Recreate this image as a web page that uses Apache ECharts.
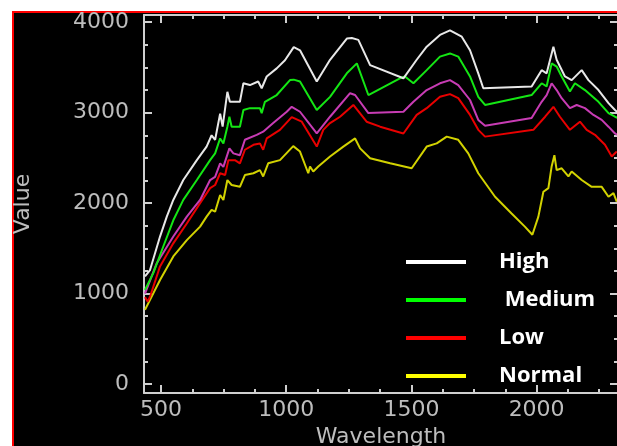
<!DOCTYPE html>
<html>
<head>
<meta charset="utf-8">
<script src="https://cdn.jsdelivr.net/npm/echarts@6/dist/echarts.min.js"></script>
<style>
html,body{margin:0;padding:0;background:#fff;width:617px;height:446px;overflow:hidden}
#bg{position:absolute;left:12px;top:11px;width:605px;height:435px;background:#000;border-left:2px solid #f00;border-top:2px solid #f00;box-sizing:border-box}
#c{position:absolute;left:0;top:0;width:617px;height:446px}
</style>
</head>
<body>
<div id="bg"></div>
<div id="c"></div>
<script>
// ---- data ----
const seriesNames = ['High', 'Medium', 'Low', 'Normal'];

const highWl = [436,456,496,523,549,589,643,682,702,716,736,746,765,775,815,829,855,888,902,922,962,995,1030,1055,1122,1175,1242,1262,1288,1335,1468,1521,1561,1614,1654,1701,1734,1767,1787,1980,2020,2040,2067,2080,2113,2140,2180,2207,2247,2287,2313,2325];
const highVal = [1190,1260,1630,1850,2035,2255,2475,2625,2750,2700,2990,2845,3230,3120,3120,3325,3305,3345,3270,3400,3490,3580,3725,3690,3345,3585,3820,3825,3805,3525,3380,3585,3730,3860,3910,3840,3690,3435,3270,3290,3470,3435,3730,3585,3400,3360,3470,3360,3250,3105,3030,3000];

const mediumWl = [436,469,509,549,589,643,696,716,736,749,765,773,782,815,829,855,895,902,915,962,1015,1030,1055,1122,1175,1242,1282,1328,1454,1474,1508,1561,1614,1654,1687,1734,1767,1794,1980,2020,2040,2060,2080,2100,2133,2153,2193,2247,2287,2313,2325];
const mediumVal = [1040,1225,1520,1810,2035,2255,2475,2550,2715,2660,2845,2955,2845,2845,3030,3050,3050,2995,3120,3195,3360,3365,3345,3030,3175,3435,3545,3195,3380,3400,3325,3470,3620,3655,3620,3400,3175,3085,3195,3325,3290,3545,3510,3400,3235,3325,3250,3120,2995,2955,2940];

const magentaWl = [436,483,549,603,656,696,716,736,749,773,789,815,835,882,908,948,1002,1022,1055,1122,1175,1255,1275,1328,1468,1508,1561,1614,1654,1687,1734,1767,1794,1980,2020,2040,2060,2080,2100,2133,2160,2193,2227,2260,2287,2313,2325];
const magentaVal = [1000,1335,1630,1850,2035,2255,2290,2440,2400,2605,2550,2530,2700,2755,2790,2885,3010,3065,3010,2770,2955,3215,3195,2995,3010,3120,3250,3325,3360,3305,3140,2920,2855,2940,3120,3195,3325,3250,3160,3050,3085,3050,2975,2920,2845,2770,2750];

const lowWl = [436,447,456,496,549,603,656,696,716,736,756,769,795,815,835,869,895,908,922,975,1022,1062,1122,1148,1175,1215,1268,1321,1375,1468,1521,1561,1614,1654,1687,1734,1767,1794,1987,2034,2067,2093,2133,2173,2200,2233,2273,2300,2320];
const lowVal = [960,910,965,1300,1555,1775,2000,2165,2200,2330,2310,2475,2475,2440,2590,2645,2660,2590,2715,2810,2950,2900,2625,2810,2885,2955,3085,2900,2845,2770,2975,3050,3175,3205,3160,2975,2810,2735,2810,2955,3065,2955,2810,2900,2810,2755,2645,2515,2570];

const normalWl = [436,456,496,549,603,656,682,702,716,736,749,765,782,815,835,869,895,908,928,975,1028,1055,1088,1095,1108,1128,1175,1228,1275,1295,1335,1415,1501,1561,1601,1641,1687,1727,1767,1834,1900,1953,1983,2007,2027,2047,2060,2071,2080,2100,2127,2140,2180,2220,2260,2287,2307,2320];
const normalVal = [820,930,1150,1410,1590,1740,1850,1925,1905,2090,2035,2255,2200,2180,2310,2330,2365,2295,2440,2475,2630,2570,2330,2405,2350,2405,2515,2625,2715,2605,2495,2440,2385,2625,2660,2735,2700,2550,2330,2070,1885,1740,1650,1850,2125,2165,2405,2530,2365,2385,2295,2350,2255,2180,2180,2070,2110,2015];

// ---- build ----
const pairs = (xs, ys) => xs.map((x, i) => [x, ys[i]]);
const X_MIN = 432, X_MAX = 2325, Y_MIN = -100, Y_MAX = 4080;
const axisCol = '#cfcfcf';
const labelFont = {color: '#bdbdbd', fontFamily: 'DejaVu Sans', fontSize: 22};

function axisCommon(withLabels, margin) {
  return {
    splitNumber: 4,
    axisLine: {show: true, onZero: false, lineStyle: {color: axisCol, width: 2}},
    axisTick: {show: true, inside: true, length: 8, lineStyle: {color: axisCol, width: 2}},
    minorTick: {show: true, splitNumber: 4, length: 4, lineStyle: {color: axisCol, width: 2}},
    axisLabel: Object.assign({show: true, margin: margin, showMinLabel: false, showMaxLabel: false,
      formatter: v => (withLabels ? String(v) : '')}, labelFont),
    splitLine: {show: false}
  };
}
function xAx(pos, withLabels, name) {
  return Object.assign({
    type: 'value', position: pos, min: X_MIN, max: X_MAX,
    name: name, nameLocation: 'middle', nameGap: 26,
    nameTextStyle: Object.assign({}, labelFont)
  }, axisCommon(withLabels, 6));
}
function yAx(pos, withLabels, name) {
  return Object.assign({
    type: 'value', position: pos, min: Y_MIN, max: Y_MAX,
    name: name, nameLocation: 'middle', nameGap: 110, nameRotate: 90,
    nameTextStyle: Object.assign({}, labelFont)
  }, axisCommon(withLabels, 15));
}

function line(name, data, color) {
  return {
    name: name, type: 'line', data: data, xAxisIndex: 0, yAxisIndex: 0,
    symbol: 'none', clip: true,
    lineStyle: {color: color, width: 2}, itemStyle: {color: color}
  };
}

const chart = echarts.init(document.getElementById('c'), null, {renderer: 'canvas'});
chart.setOption({
  animation: false,
  grid: {left: 144, top: 15, right: -1, bottom: 53, outerBoundsMode: 'none'},
  xAxis: [
    xAx('bottom', true, 'Wavelength'),
    xAx('top', false, '')
  ],
  yAxis: [
    yAx('left', true, 'Value'),
    yAx('right', false, '')
  ],
  legend: {
    orient: 'vertical', left: 401, top: 246,
    itemWidth: 60, itemHeight: 4, itemGap: 16, icon: 'rect',
    selectedMode: false,
    data: [
      {name: seriesNames[0], itemStyle: {color: '#ffffff'}},
      {name: seriesNames[1], itemStyle: {color: '#00ff00'}},
      {name: seriesNames[2], itemStyle: {color: '#ff0000'}},
      {name: seriesNames[3], itemStyle: {color: '#ffff00'}}
    ],
    formatter: n => (n === 'Medium' ? ' ' + n : n),
    textStyle: {color: '#ffffff', fontFamily: 'Open Sans', fontWeight: 'bold', fontSize: 22, lineHeight: 22, padding: [0, 0, 0, 28]}
  },
  series: [
    line(seriesNames[3], pairs(normalWl, normalVal), '#d2d200'),
    line(seriesNames[2], pairs(lowWl, lowVal), '#e80000'),
    line('Unlabelled', pairs(magentaWl, magentaVal), '#c83cb4'),
    line(seriesNames[1], pairs(mediumWl, mediumVal), '#14e614'),
    line(seriesNames[0], pairs(highWl, highVal), '#e8e8e8')
  ]
});
</script>
</body>
</html>
